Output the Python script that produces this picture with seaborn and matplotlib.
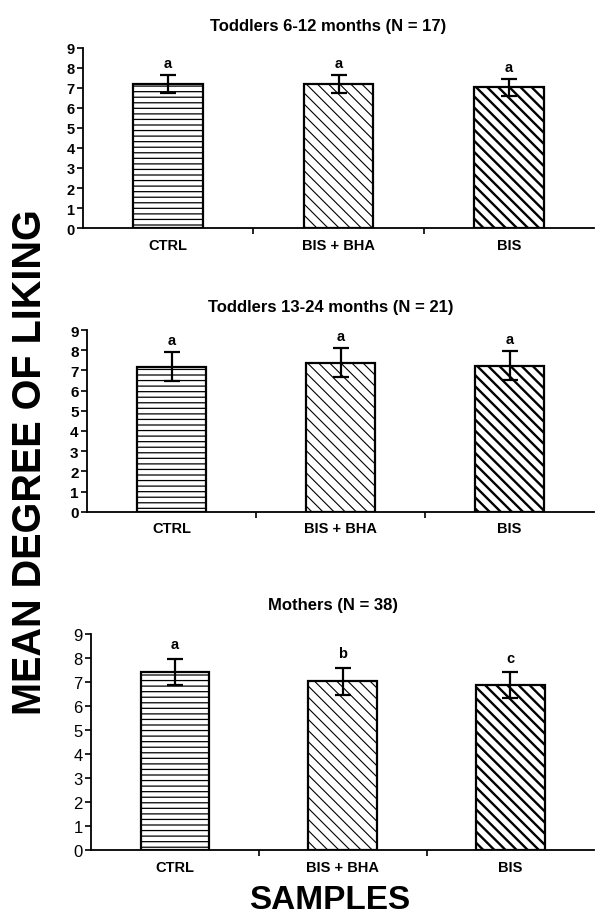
import numpy as np
import seaborn as sns
from matplotlib import pyplot as plt

# ------- data ----------------------------
samples = ["CTRL", "BIS + BHA", "BIS"]

titles = ["Toddlers 6-12 months (N = 17)",
          "Toddlers 13-24 months (N = 21)",
          "Mothers (N = 38)"]

means_6_12 = [7.2, 7.17, 7.03]
sd_6_12 = [0.45, 0.45, 0.42]
letters_6_12 = ["a", "a", "a"]

means_13_24 = [7.19, 7.38, 7.22]
sd_13_24 = [0.72, 0.72, 0.72]
letters_13_24 = ["a", "a", "a"]

means_mothers = [7.42, 7.03, 6.87]
sd_mothers = [0.55, 0.56, 0.54]
letters_mothers = ["a", "b", "c"]

y_ticks = list(range(0, 10))
# ----------------------------------------

sns.set_style("white")
plt.rcParams['font.family'] = ['Liberation Sans', 'DejaVu Sans']
plt.rcParams['text.color'] = 'black'
plt.rcParams['xtick.color'] = 'black'
plt.rcParams['ytick.color'] = 'black'
plt.rcParams['axes.labelcolor'] = 'black'

hatches = ['---', '\\\\\\', '\\\\\\']
hatch_lw = [0.9, 0.8, 1.7]

fig = plt.figure(figsize=(5.96, 9.2), dpi=100)

# left, bottom, width, height
boxes = [[0.139, 0.751, 0.858, 0.196],
         [0.146, 0.4427, 0.851, 0.1975],
         [0.153, 0.0745, 0.844, 0.2353]]
tick_fs = [10.5, 11, 12]
tick_wt = ['bold', 'bold', 'normal']
title_pad = [13, 14, 18]

panels = [(means_6_12, sd_6_12, letters_6_12),
          (means_13_24, sd_13_24, letters_13_24),
          (means_mothers, sd_mothers, letters_mothers)]

for k, (means, sds, letters) in enumerate(panels):
    ax = fig.add_axes(boxes[k])
    sns.barplot(x=samples, y=means, ax=ax, color='white', edgecolor='black',
                linewidth=1.6, width=0.41, errorbar=None, saturation=1)
    for p, h, lw in zip(ax.patches, hatches, hatch_lw):
        p.set_hatch(h)
        if hasattr(p, 'set_hatch_linewidth'):
            p.set_hatch_linewidth(lw)
    ax.errorbar(np.arange(len(samples)), means, yerr=sds, fmt='none',
                ecolor='black', elinewidth=1.6, capsize=6, capthick=1.6)
    for i, (m, s, lab) in enumerate(zip(means, sds, letters)):
        ax.text(i, m + s + 0.6, lab, ha='center', va='center',
                fontsize=10.5, fontweight='bold')

    ax.set_xlim(-0.5, 2.5)
    ax.set_ylim(0, 9)
    ax.set_yticks(y_ticks)
    ax.set_yticklabels([str(t) for t in y_ticks], fontsize=tick_fs[k],
                       fontweight=tick_wt[k])
    ax.set_xticks(range(len(samples)))
    ax.set_xticklabels(samples, fontsize=10.5, fontweight='bold')
    ax.set_xticks([0.5, 1.5], minor=True)
    ax.tick_params(axis='x', which='major', length=0, pad=7)
    ax.tick_params(axis='x', which='minor', length=4, width=1.2,
                   direction='out', color='black', bottom=True)
    ax.tick_params(axis='y', length=4, width=1.2, direction='out',
                   color='black', left=True, pad=2)
    for side in ['top', 'right']:
        ax.spines[side].set_visible(False)
    for side in ['left', 'bottom']:
        ax.spines[side].set_color('black')
        ax.spines[side].set_linewidth(1.3)
    ax.set_title(titles[k], fontsize=12, fontweight='bold', pad=title_pad[k],
                 x=0.48)

fig.text(0.05, 0.498, "MEAN DEGREE OF LIKING", rotation=90, ha='center',
         va='center', fontsize=28.5, fontweight='bold')
fig.text(0.553, 0.012, "SAMPLES", ha='center', va='baseline', fontsize=24,
         fontweight='bold')

plt.savefig('out.png', dpi=100)
